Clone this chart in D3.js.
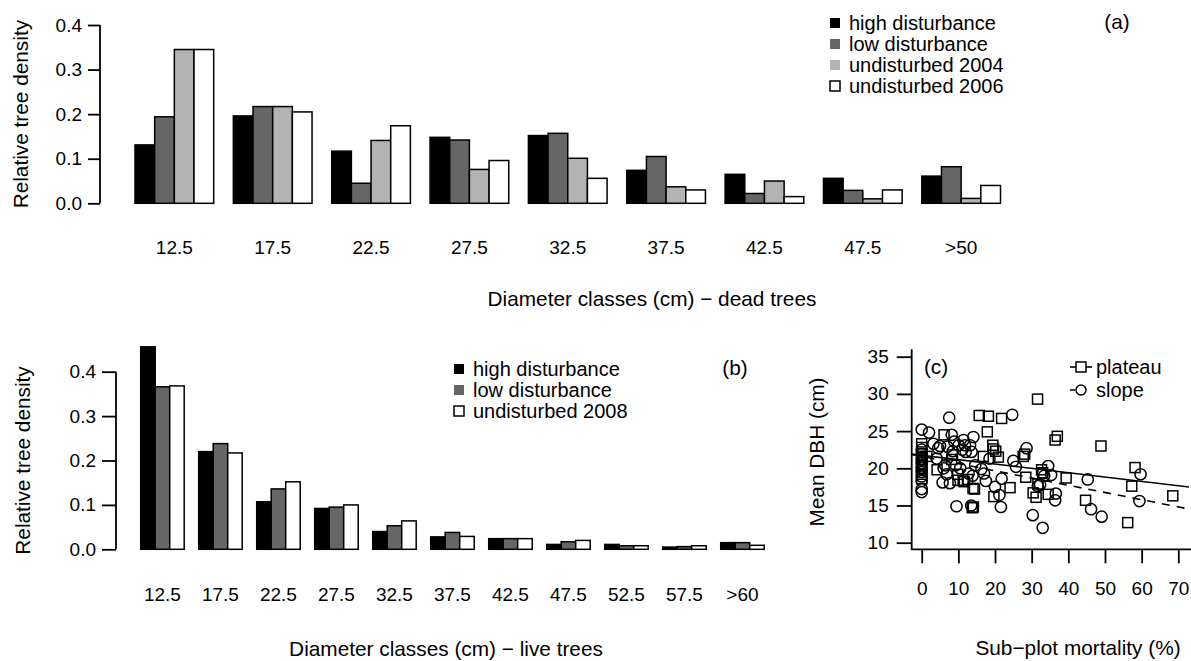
<!DOCTYPE html>
<html><head><meta charset="utf-8">
<script src="https://cdn.jsdelivr.net/npm/d3@7"></script>
<style>
html,body{margin:0;padding:0;background:#fff;}
svg text{font-family:"Liberation Sans",Arial,Helvetica,sans-serif;fill:#000;}
</style></head>
<body>
<svg id="chart" width="1191" height="661"></svg>
<script>
// ---------- DATA ----------
const deadClasses = ["12.5","17.5","22.5","27.5","32.5","37.5","42.5","47.5",">50"];
const deadSeries = ["high disturbance","low disturbance","undisturbed 2004","undisturbed 2006"];
const deadHigh   = [0.131,0.196,0.117,0.148,0.152,0.074,0.065,0.056,0.061];
const deadLow    = [0.194,0.217,0.045,0.142,0.157,0.105,0.022,0.029,0.082];
const deadUnd04  = [0.345,0.217,0.141,0.076,0.101,0.037,0.050,0.010,0.011];
const deadUnd06  = [0.345,0.205,0.174,0.096,0.056,0.030,0.015,0.030,0.040];

const liveClasses = ["12.5","17.5","22.5","27.5","32.5","37.5","42.5","47.5","52.5","57.5",">60"];
const liveSeries = ["high disturbance","low disturbance","undisturbed 2008"];
const liveHigh  = [0.456,0.220,0.107,0.092,0.040,0.028,0.024,0.011,0.011,0.005,0.015];
const liveLow   = [0.366,0.238,0.136,0.095,0.053,0.038,0.024,0.017,0.008,0.006,0.015];
const liveUnd08 = [0.368,0.217,0.152,0.100,0.064,0.029,0.024,0.020,0.008,0.008,0.009];

const densityTicks = [0.0,0.1,0.2,0.3,0.4];

// panel (c): [sub-plot mortality %, mean DBH cm]
const plateauPts = [
 [0,23.3],[0,22.8],[0,22.2],[0,21.6],[0,21.0],[0,20.4],[0,19.8],[0,19.2],[0,18.6],
 [1.4,21.6],[4.2,19.8],[6.1,24.5],[8.4,21.8],[8.2,21.2],[9.8,19.2],[9.9,18.4],[11.3,18.3],
 [11.6,18.2],[12.5,18.5],[14.0,17.3],[14.4,17.2],[13.8,14.7],[14.1,14.8],
 [15.7,27.1],[18.2,27.0],[21.8,26.7],[17.9,24.9],[19.4,23.1],[19.6,22.6],[20.2,22.3],
 [16.8,21.6],[20.9,21.5],[19.7,16.2],[24.1,17.4],[27.7,21.6],[28.1,21.9],[28.4,18.8],
 [31.6,29.3],[30.4,16.7],[31.2,16.1],[31.7,17.9],[32.7,19.8],[33.0,19.4],[34.5,16.5],
 [36.4,23.8],[37.0,24.3],[39.4,18.7],[44.7,15.7],[48.9,23.0],[56.2,12.7],[57.3,17.6],
 [58.2,20.1],[68.5,16.3]
];
const slopePts = [
 [0,25.2],[0,22.5],[0,21.9],[0,21.3],[0,20.7],[0,20.1],[0,19.5],[0,18.9],[0,18.3],[0,17.2],[0,16.8],
 [2.0,24.8],[3.2,23.3],[4.1,21.3],[4.5,22.7],[5.0,23.0],[5.7,18.1],[6.0,20.0],[6.4,20.4],
 [6.8,19.2],[7.0,22.9],[7.5,26.8],[7.7,18.0],[8.2,24.5],[8.9,23.6],[8.5,22.3],[9.3,20.4],
 [9.5,14.9],[10.1,23.1],[11.4,23.8],[11.8,23.1],[11.1,22.5],[12.0,22.2],[13.2,23.1],
 [13.6,22.2],[13.5,15.0],[13.9,19.0],[14.1,24.2],[14.6,20.4],[16.3,19.9],[17.0,19.3],
 [17.5,18.3],[18.5,21.3],[20.0,17.5],[21.2,16.4],[21.8,18.6],[21.6,14.8],[24.7,27.2],
 [25.0,21.0],[25.7,20.2],[28.6,22.7],[30.3,13.7],[33.0,12.0],[33.0,19.3],[33.4,19.0],
 [34.5,20.3],[35.3,19.1],[36.6,16.6],[36.4,15.7],[45.3,18.5],[46.2,14.5],[49.1,13.5],
 [59.7,19.2],[59.4,15.6],[32.3,17.8],[31.7,17.6],[12.8,19.3],[10.5,20.0]
];
const plateauFit = {intercept:21.74, slope:-0.0584};
const slopeFit   = {intercept:21.60, slope:-0.097};
const dbhTicks = [10,15,20,25,30,35];
const mortTicks = [0,10,20,30,40,50,60,70];

// ---------- STYLE / LAYOUT ----------
const fills = ["#000000","#666666","#b3b3b3","#ffffff"];
const fillsB = ["#000000","#666666","#ffffff"];
const FS = 19;     // tick labels
const FT = 20.8;   // titles
const FL = 20;     // legends
const svg = d3.select("#chart");

function barPanel(o){
  const g = svg.append("g");
  const y = d3.scaleLinear().domain([0,0.4]).range([o.y0,o.y4]);
  const x = d3.scaleBand().domain(o.classes).range([o.xStart,o.xEnd]).paddingInner(o.padIn).paddingOuter(0);
  const xs = d3.scaleBand().domain(o.series).range([0,x.bandwidth()]);
  const rows = o.classes.map((c,i)=>o.values.map((v,k)=>({c,s:o.series[k],v:v[i],k})));
  g.selectAll("g.grp").data(rows).join("g")
    .attr("transform",d=>`translate(${x(d[0].c)},0)`)
    .selectAll("rect").data(d=>d).join("rect")
    .attr("x",d=>xs(d.s)).attr("width",xs.bandwidth())
    .attr("y",d=>y(d.v)).attr("height",d=>y(0)-y(d.v))
    .attr("fill",d=>o.fills[d.k]).attr("stroke","#000").attr("stroke-width",1.5);
  // y axis
  const ya = d3.axisLeft(y).tickValues(densityTicks).tickFormat(d3.format(".1f")).tickSize(o.tick).tickPadding(6);
  const ag = g.append("g").attr("transform",`translate(${o.axisX},0)`).call(ya);
  ag.select(".domain").attr("d",`M0,${y(0)}V${y(0.4)}`).attr("stroke","#000").attr("stroke-width",1.8);
  ag.selectAll(".tick line").attr("x2",-o.tick).attr("stroke-width",1.8);
  ag.selectAll("text").attr("font-size",FS).attr("font-family","Liberation Sans, Arial").attr("fill","#000");
  // category labels
  g.selectAll("text.cat").data(o.classes).join("text").attr("class","cat")
    .attr("x",d=>x(d)+x.bandwidth()/2).attr("y",o.labY).attr("text-anchor","middle")
    .attr("dominant-baseline","central").attr("font-size",FS).text(d=>d);
  // titles
  g.append("text").attr("x",o.titleX).attr("y",o.titleY).attr("text-anchor","middle")
    .attr("dominant-baseline","central").attr("font-size",FT).text(o.title);
  g.append("text").attr("transform",`translate(${o.ytX},${(y(0)+y(0.4))/2}) rotate(-90)`)
    .attr("text-anchor","middle").attr("dominant-baseline","central").attr("font-size",FT).text("Relative tree density");
  // legend
  const lg = g.append("g");
  o.series.forEach((s,k)=>{
    const ly = o.legY + k*o.legStep;
    lg.append("rect").attr("x",o.legX).attr("y",ly-5).attr("width",10).attr("height",10)
      .attr("fill",o.fills[k]).attr("stroke",k===o.series.length-1?"#000":"none").attr("stroke-width",1.5);
    lg.append("text").attr("x",o.legX+19).attr("y",ly).attr("dominant-baseline","central")
      .attr("font-size",FL).text(s);
  });
  g.append("text").attr("x",o.tagX).attr("y",o.tagY).attr("text-anchor","middle")
    .attr("dominant-baseline","central").attr("font-size",FT).text(o.tag);
}

barPanel({classes:deadClasses, series:deadSeries, values:[deadHigh,deadLow,deadUnd04,deadUnd06], fills,
  y0:203.3, y4:25, xStart:135, xEnd:1000.5, padIn:0.2, axisX:100, tick:12,
  labY:247, title:"Diameter classes (cm) \u2212 dead trees", titleX:652, titleY:298, ytX:20,
  legX:830, legY:23, legStep:21, tagX:1117, tagY:21, tag:"(a)"});

barPanel({classes:liveClasses, series:liveSeries, values:[liveHigh,liveLow,liveUnd08], fills:fillsB,
  y0:549.3, y4:371.7, xStart:140.7, xEnd:764.2, padIn:0.25, axisX:116, tick:14,
  labY:594, title:"Diameter classes (cm) \u2212 live trees", titleX:446, titleY:648, ytX:22,
  legX:454, legY:369, legStep:21, tagX:735, tagY:367, tag:"(b)"});

// ---------- PANEL (c) ----------
(function(){
  const g = svg.append("g");
  const L=911.7, R=1189, B=549.3, T=349.3;
  const x = d3.scaleLinear().domain([0,70]).range([921.7,1178.3]);
  const y = d3.scaleLinear().domain([10,35]).range([542.7,356.7]);
  const xmin = x.invert(L), xmax = x.invert(R);
  g.append("clipPath").attr("id","clipc").append("rect").attr("x",L).attr("y",T).attr("width",R-L).attr("height",B-T);
  // fit lines
  const line = d3.line().x(d=>x(d[0])).y(d=>y(d[1]));
  const fitPts = f=>[xmin,xmax].map(v=>[v,f.intercept+f.slope*v]);
  g.append("path").attr("clip-path","url(#clipc)").attr("d",line(fitPts(plateauFit))).attr("stroke","#000").attr("stroke-width",1.6).attr("fill","none");
  g.append("path").attr("clip-path","url(#clipc)").attr("d",line(fitPts(slopeFit))).attr("stroke","#000").attr("stroke-width",1.6).attr("fill","none").attr("stroke-dasharray","8,7");
  // points
  const S=10;
  g.selectAll("rect.pl").data(plateauPts).join("rect").attr("class","pl")
    .attr("x",d=>x(d[0])-S/2).attr("y",d=>y(d[1])-S/2).attr("width",S).attr("height",S)
    .attr("fill","none").attr("stroke","#000").attr("stroke-width",1.5);
  g.selectAll("circle.sl").data(slopePts).join("circle").attr("class","sl")
    .attr("cx",d=>x(d[0])).attr("cy",d=>y(d[1])).attr("r",5.6)
    .attr("fill","none").attr("stroke","#000").attr("stroke-width",1.5);
  // axes
  g.append("path").attr("d",`M${L},${T}V${B}H${R+2}`).attr("stroke","#000").attr("stroke-width",1.8).attr("fill","none");
  const ya = d3.axisLeft(y).tickValues(dbhTicks).tickSize(15).tickPadding(8);
  const ag = g.append("g").attr("transform",`translate(${L},0)`).call(ya);
  ag.select(".domain").remove();
  ag.selectAll(".tick line").attr("stroke-width",1.8);
  ag.selectAll("text").attr("font-size",FS).attr("font-family","Liberation Sans, Arial").attr("fill","#000");
  const xa = d3.axisBottom(x).tickValues(mortTicks).tickSize(14).tickPadding(18);
  const xg = g.append("g").attr("transform",`translate(0,${B})`).call(xa);
  xg.select(".domain").remove();
  xg.selectAll(".tick line").attr("stroke-width",1.8);
  xg.selectAll("text").attr("font-size",FS).attr("font-family","Liberation Sans, Arial").attr("fill","#000");
  g.append("text").attr("x",1078).attr("y",647).attr("text-anchor","middle").attr("dominant-baseline","central")
    .attr("font-size",FT).text("Sub\u2212plot mortality (%)");
  g.append("text").attr("transform",`translate(816,452) rotate(-90)`).attr("text-anchor","middle")
    .attr("dominant-baseline","central").attr("font-size",FT).text("Mean DBH (cm)");
  g.append("text").attr("x",936).attr("y",366).attr("text-anchor","middle").attr("dominant-baseline","central")
    .attr("font-size",FT).text("(c)");
  // legend
  const lx0=1070, lx1=1092, lxc=1081;
  g.append("line").attr("x1",lx0).attr("x2",lx1).attr("y1",367).attr("y2",367).attr("stroke","#000").attr("stroke-width",1.6);
  g.append("rect").attr("x",lxc-S/2).attr("y",367-S/2).attr("width",S).attr("height",S).attr("fill","#fff").attr("stroke","#000").attr("stroke-width",1.5);
  g.append("text").attr("x",1096).attr("y",367).attr("dominant-baseline","central").attr("font-size",FL).text("plateau");
  g.append("line").attr("x1",lx0).attr("x2",lx1).attr("y1",390).attr("y2",390).attr("stroke","#000").attr("stroke-width",1.6).attr("stroke-dasharray","5,6");
  g.append("circle").attr("cx",lxc).attr("cy",390).attr("r",5).attr("fill","#fff").attr("stroke","#000").attr("stroke-width",1.5);
  g.append("text").attr("x",1096).attr("y",390).attr("dominant-baseline","central").attr("font-size",FL).text("slope");
})();
</script>
</body></html>
